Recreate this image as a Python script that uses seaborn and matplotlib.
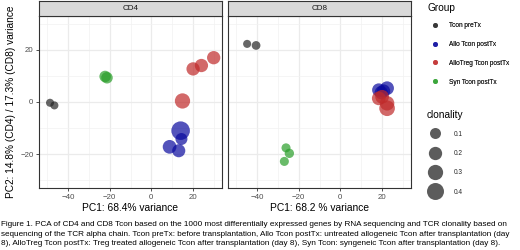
import matplotlib
matplotlib.use("Agg")
import matplotlib.pyplot as plt
from matplotlib.lines import Line2D
import seaborn as sns
import pandas as pd

# ---------------- data ----------------
groups = ["Tcon preTx", "Allo Tcon postTx", "AlloTreg Tcon postTx", "Syn Tcon postTx"]
colors = ["#262626", "#0a0a9e", "#c02a2a", "#2a9e2a"]

cd4_group = ["Tcon preTx"] * 2 + ["Allo Tcon postTx"] * 4 + ["AlloTreg Tcon postTx"] * 4 + ["Syn Tcon postTx"] * 2
cd4_pc1 = [-48.7, -46.6, 14.1, 14.5, 8.8, 13.2, 30.0, 24.1, 20.1, 15.0, -22.2, -21.3]
cd4_pc2 = [-0.3, -1.3, -11.0, -14.2, -17.2, -18.7, 17.0, 14.0, 12.7, 0.4, 9.8, 9.3]
cd4_clon = [0.0, 0.0, 0.5, 0.14, 0.22, 0.19, 0.2, 0.2, 0.2, 0.3, 0.12, 0.12]

cd8_group = ["Tcon preTx"] * 2 + ["Allo Tcon postTx"] * 4 + ["AlloTreg Tcon postTx"] * 4 + ["Syn Tcon postTx"] * 3
cd8_pc1 = [-44.8, -40.5, 18.5, 22.5, 19.7, 20.8, 18.5, 20.1, 22.5, 22.5, -26.1, -24.5, -26.9]
cd8_pc2 = [22.3, 21.7, 4.6, 5.3, 3.6, 4.2, 1.4, 2.0, -0.5, -2.4, -17.6, -19.7, -22.8]
cd8_clon = [0.0, 0.02, 0.2, 0.22, 0.2, 0.2, 0.22, 0.22, 0.26, 0.32, 0.03, 0.04, 0.03]

panels = ["CD4", "CD8"]
xlabels = ["PC1: 68.4% variance", "PC1: 68.2 % variance"]
ylabel = "PC2: 14.8% (CD4) / 17.3% (CD8) variance"
size_breaks = [0.1, 0.2, 0.3, 0.4]
xticks = [-40, -20, 0, 20]
yticks = [-20, 0, 20]
caption = ("Figure 1. PCA of CD4 and CD8 Tcon based on the 1000 most differentially expressed genes by RNA sequencing and TCR clonality based on\n"
           "sequencing of the TCR alpha chain. Tcon preTx: before transplantation, Allo Tcon postTx: untreated allogeneic Tcon after transplantation (day\n"
           "8), AlloTreg Tcon postTx: Treg treated allogeneic Tcon after transplantation (day 8), Syn Tcon: syngeneic Tcon after transplantation (day 8).")

# ---------------- style ----------------
sns.set_theme(style="white")
plt.rcParams["font.family"] = ["Liberation Sans", "DejaVu Sans"]

W, H = 520, 250
fig = plt.figure(figsize=(W / 100, H / 100), dpi=100)

def fx(px):
    return px / W

def fy(py):
    return 1 - py / H

palette = dict(zip(groups, colors))
SMIN, SMAX = 33.7, 323.7  # marker area (pt^2) for clonality 0 .. 1

dfs = [
    pd.DataFrame({"PC1": cd4_pc1, "PC2": cd4_pc2, "Group": cd4_group, "clonality": cd4_clon}),
    pd.DataFrame({"PC1": cd8_pc1, "PC2": cd8_pc2, "Group": cd8_group, "clonality": cd8_clon}),
]
lefts = [39, 228]
right_w = 183
top, bottom = 16, 188
edge = "#333333"

for i, (df, name) in enumerate(zip(dfs, panels)):
    ax = fig.add_axes([fx(lefts[i]), fy(bottom), fx(right_w), (bottom - top) / H])
    ax.set_facecolor("white")
    sns.scatterplot(data=df, x="PC1", y="PC2", hue="Group", hue_order=groups, palette=palette,
                    size="clonality", sizes=(SMIN, SMAX), size_norm=(0, 1),
                    alpha=0.7, linewidth=0, legend=False, ax=ax, zorder=3)
    ax.set_xlim(-54, 34)
    ax.set_ylim(-33, 33)
    ax.set_xticks(xticks)
    ax.set_yticks(yticks)
    ax.set_xticks([-50, -30, -10, 10, 30], minor=True)
    ax.set_yticks([-30, -10, 10, 30], minor=True)
    ax.grid(True, which="major", color="#ebebeb", linewidth=0.9, zorder=0)
    ax.grid(True, which="minor", color="#f2f2f2", linewidth=0.5, zorder=0)
    ax.set_axisbelow(True)
    for s in ax.spines.values():
        s.set_color(edge)
        s.set_linewidth(0.8)
    ax.tick_params(axis="both", which="major", length=2.5, width=0.6, color=edge,
                   labelsize=5.7, labelcolor="#4d4d4d", pad=1.5, bottom=True, left=(i == 0))
    ax.tick_params(which="minor", length=0)
    if i == 1:
        ax.set_yticklabels([])
    ax.set_xlabel(xlabels[i], fontsize=7.4, color="black", labelpad=1.5)
    ax.set_ylabel(ylabel if i == 0 else "", fontsize=7.3, color="black", labelpad=3)

    strip = fig.add_axes([fx(lefts[i]), fy(top), fx(right_w), 15 / H])
    strip.set_facecolor("#d9d9d9")
    strip.set_xticks([])
    strip.set_yticks([])
    for s in strip.spines.values():
        s.set_color(edge)
        s.set_linewidth(0.8)
    strip.text(0.5, 0.5, name, ha="center", va="center", fontsize=5.9, color="#1a1a1a",
               transform=strip.transAxes)

# ---------------- legends ----------------
LFS = 4.7
grp_handles = [Line2D([], [], marker="o", linestyle="", markersize=3.6, markerfacecolor=c,
                      markeredgewidth=0, alpha=0.7) for c in colors]
leg1 = fig.legend(grp_handles, groups, loc="upper left", bbox_to_anchor=(fx(428.5), fy(22)),
                  frameon=False, fontsize=LFS, labelspacing=1.82, handlelength=2.0,
                  handletextpad=1.2, borderaxespad=0, borderpad=0)

size_handles = [Line2D([], [], marker="o", linestyle="", markersize=(SMIN + (SMAX - SMIN) * v) ** 0.5,
                       markerfacecolor="#262626", markeredgewidth=0, alpha=0.75) for v in size_breaks]
leg2 = fig.legend(size_handles, [str(v) for v in size_breaks], loc="upper left",
                  bbox_to_anchor=(fx(428.5), fy(130.5)), frameon=False, fontsize=LFS,
                  labelspacing=1.9, handlelength=2.0, handletextpad=1.8,
                  borderaxespad=0, borderpad=0)
fig.add_artist(leg1)
fig.text(fx(427), fy(8), "Group", ha="left", va="center", fontsize=7.3, color="black")
fig.text(fx(427), fy(115), "clonality", ha="left", va="center", fontsize=7.3, color="black")

# ---------------- caption ----------------
fig.text(fx(1), fy(221.5), caption, ha="left", va="top", fontsize=5.9, linespacing=1.42, color="black")

fig.savefig("out.png", dpi=100)
